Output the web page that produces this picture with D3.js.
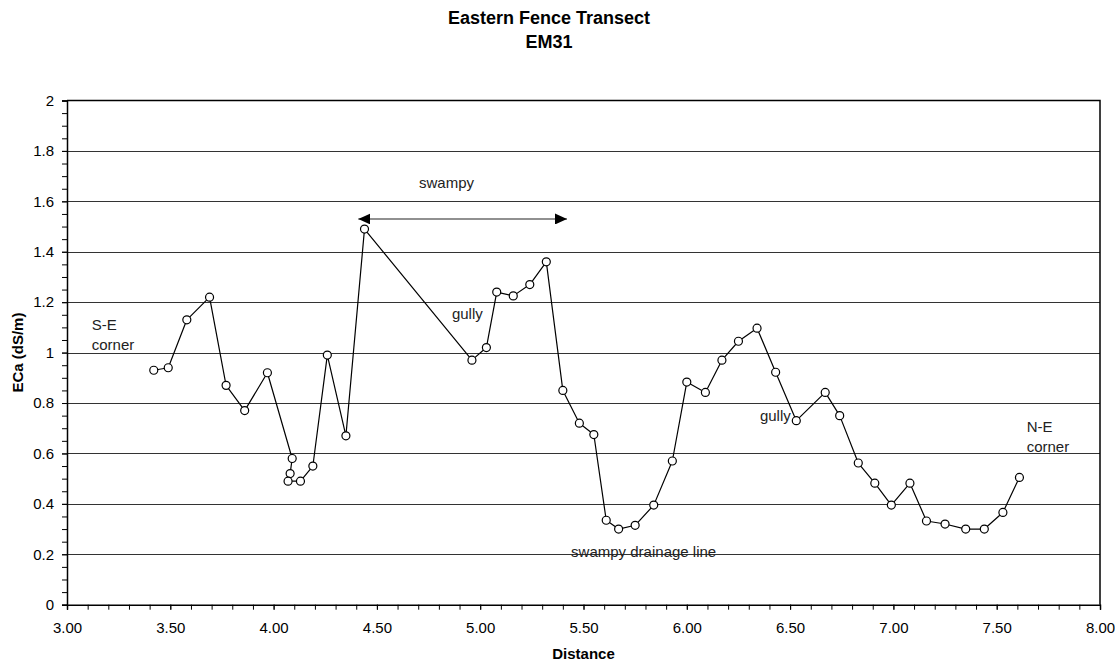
<!DOCTYPE html>
<html>
<head>
<meta charset="utf-8">
<script src="https://cdn.jsdelivr.net/npm/d3@7"></script>
<style>
  body { margin: 0; background: #fff; }
  text { font-family: "Liberation Sans", Arial, sans-serif; }
</style>
</head>
<body>
<div class="chart-container"></div>
<script>
// Survey readings along the eastern fence
const distance = [3.42, 3.49, 3.58, 3.69, 3.77, 3.86, 3.97, 4.09, 4.08, 4.07, 4.13, 4.19, 4.26, 4.35, 4.44,
  4.96, 5.03, 5.08, 5.16, 5.24, 5.32, 5.40, 5.48, 5.55, 5.61, 5.67, 5.75, 5.84, 5.93, 6.00,
  6.09, 6.17, 6.25, 6.34, 6.43, 6.53, 6.67, 6.74, 6.83, 6.91, 6.99, 7.08, 7.16, 7.25, 7.35,
  7.44, 7.53, 7.61]
const eca = [0.93, 0.94, 1.13, 1.22, 0.87, 0.77, 0.92, 0.58, 0.52, 0.49, 0.49, 0.55, 0.99, 0.67, 1.49,
  0.97, 1.02, 1.24, 1.225, 1.27, 1.36, 0.85, 0.72, 0.675, 0.335, 0.30, 0.315, 0.395, 0.57, 0.883,
  0.842, 0.97, 1.045, 1.097, 0.922, 0.73, 0.842, 0.75, 0.562, 0.482, 0.395, 0.482, 0.332, 0.32, 0.30,
  0.30, 0.366, 0.505]

const xTicks = [3, 3.5, 4, 4.5, 5, 5.5, 6, 6.5, 7, 7.5, 8]
const yTicks = [0, 0.2, 0.4, 0.6, 0.8, 1, 1.2, 1.4, 1.6, 1.8, 2]

// Text notes placed on the chart, in data units
const notes = [
  {text: "S-E", x: 3.12, y: 1.09},
  {text: "corner", x: 3.12, y: 1.01},
  {text: "gully", x: 4.863, y: 1.135},
  {text: "swampy", x: 4.704, y: 1.651},
  {text: "gully", x: 6.354, y: 0.729},
  {text: "swampy drainage line", x: 5.44, y: 0.189},
  {text: "N-E", x: 7.645, y: 0.686},
  {text: "corner", x: 7.645, y: 0.607}
]
const swampyRange = [4.41, 5.42]
const swampyLevel = 1.53

const W = 1115, H = 661
const margin = {top: 100.5, right: 15, bottom: 56.3, left: 67}

const x = d3.scaleLinear()
  .domain([3, 8])
  .range([margin.left, W - margin.right])

const y = d3.scaleLinear()
  .domain([0, 2])
  .range([H - margin.bottom, margin.top])

const svg = d3.select(".chart-container").append("svg")
  .attr("width", W)
  .attr("height", H)

//Gridlines
svg.append("g")
  .selectAll("line")
  .data(yTicks.filter(d => d > 0 && d < 2))
  .join("line")
  .attr("x1", x(3)).attr("x2", x(8))
  .attr("y1", d => Math.round(y(d)) + 0.5).attr("y2", d => Math.round(y(d)) + 0.5)
  .attr("stroke", "#333")
  .attr("stroke-width", 1)

//Plot box (top and right edge)
svg.append("path")
  .attr("d", `M${x(3)},${y(2)}H${x(8)}V${y(0)}`)
  .attr("fill", "none")
  .attr("stroke", "#000")
  .attr("stroke-width", 1.5)

//Minor ticks
svg.append("g")
  .attr("transform", `translate(0,${y(0)})`)
  .call(d3.axisBottom(x).tickValues(d3.range(30, 81).map(d => d / 10)).tickSize(5).tickFormat(""))
  .call(g => g.select(".domain").remove())

svg.append("g")
  .attr("transform", `translate(${x(3)},0)`)
  .call(d3.axisLeft(y).tickValues(d3.range(0, 41).map(d => d / 20)).tickSize(5).tickFormat(""))
  .call(g => g.select(".domain").remove())

//Major axes
svg.append("g")
  .attr("transform", `translate(0,${y(0)})`)
  .call(d3.axisBottom(x).tickValues(xTicks).tickSize(5).tickPadding(13).tickFormat(d3.format(".2f")))
  .call(g => g.selectAll("text").attr("font-size", 15).attr("fill", "#000"))
  .call(g => g.select(".domain").attr("stroke-width", 1.5))

svg.append("g")
  .attr("transform", `translate(${x(3)},0)`)
  .call(d3.axisLeft(y).tickValues(yTicks).tickSize(5).tickPadding(8).tickFormat(d => String(+d.toFixed(1))))
  .call(g => g.selectAll("text").attr("font-size", 15).attr("fill", "#000"))
  .call(g => g.select(".domain").attr("stroke-width", 1.5))

svg.selectAll(".tick line").attr("stroke", "#000")

//Titles
svg.append("text")
  .attr("x", 549).attr("y", 24)
  .attr("text-anchor", "middle")
  .attr("font-size", 18).attr("font-weight", "bold")
  .text("Eastern Fence Transect")

svg.append("text")
  .attr("x", 549).attr("y", 48)
  .attr("text-anchor", "middle")
  .attr("font-size", 18).attr("font-weight", "bold")
  .text("EM31")

svg.append("text")
  .attr("x", (x(3) + x(8)) / 2).attr("y", 659)
  .attr("text-anchor", "middle")
  .attr("font-size", 15).attr("font-weight", "bold")
  .text("Distance")

svg.append("text")
  .attr("transform", `translate(23,${y(1)}) rotate(-90)`)
  .attr("text-anchor", "middle")
  .attr("font-size", 15).attr("font-weight", "bold")
  .text("ECa (dS/m)")

//Notes
svg.append("g")
  .selectAll("text")
  .data(notes)
  .join("text")
  .attr("x", d => x(d.x))
  .attr("y", d => y(d.y))
  .attr("font-size", 15)
  .attr("fill", "#222")
  .text(d => d.text)

//Double arrow for the swampy stretch
svg.append("defs").selectAll("marker")
  .data(["start", "end"])
  .join("marker")
  .attr("id", d => "arrow-" + d)
  .attr("viewBox", "0 0 12 11")
  .attr("refX", d => d === "end" ? 12 : 0)
  .attr("refY", 5.5)
  .attr("markerWidth", 12)
  .attr("markerHeight", 11)
  .attr("markerUnits", "userSpaceOnUse")
  .attr("orient", "auto")
  .append("path")
  .attr("d", d => d === "end" ? "M0,0L12,5.5L0,11Z" : "M12,0L0,5.5L12,11Z")
  .attr("fill", "#000")

svg.append("line")
  .attr("x1", x(swampyRange[0])).attr("x2", x(swampyRange[1]))
  .attr("y1", y(swampyLevel)).attr("y2", y(swampyLevel))
  .attr("stroke", "#222")
  .attr("stroke-width", 1.2)
  .attr("marker-start", "url(#arrow-start)")
  .attr("marker-end", "url(#arrow-end)")

//Data line
const points = distance.map((d, i) => [d, eca[i]])

const line = d3.line()
  .x(d => x(d[0]))
  .y(d => y(d[1]))

svg.append("path")
  .datum(points)
  .attr("fill", "none")
  .attr("stroke", "#000")
  .attr("stroke-width", 1.2)
  .attr("stroke-linejoin", "round")
  .attr("d", line)

svg.append("g")
  .selectAll("circle")
  .data(points)
  .join("circle")
  .attr("cx", d => x(d[0]))
  .attr("cy", d => y(d[1]))
  .attr("r", 4)
  .attr("fill", "#fff")
  .attr("stroke", "#000")
  .attr("stroke-width", 1.2)
</script>
</body>
</html>
